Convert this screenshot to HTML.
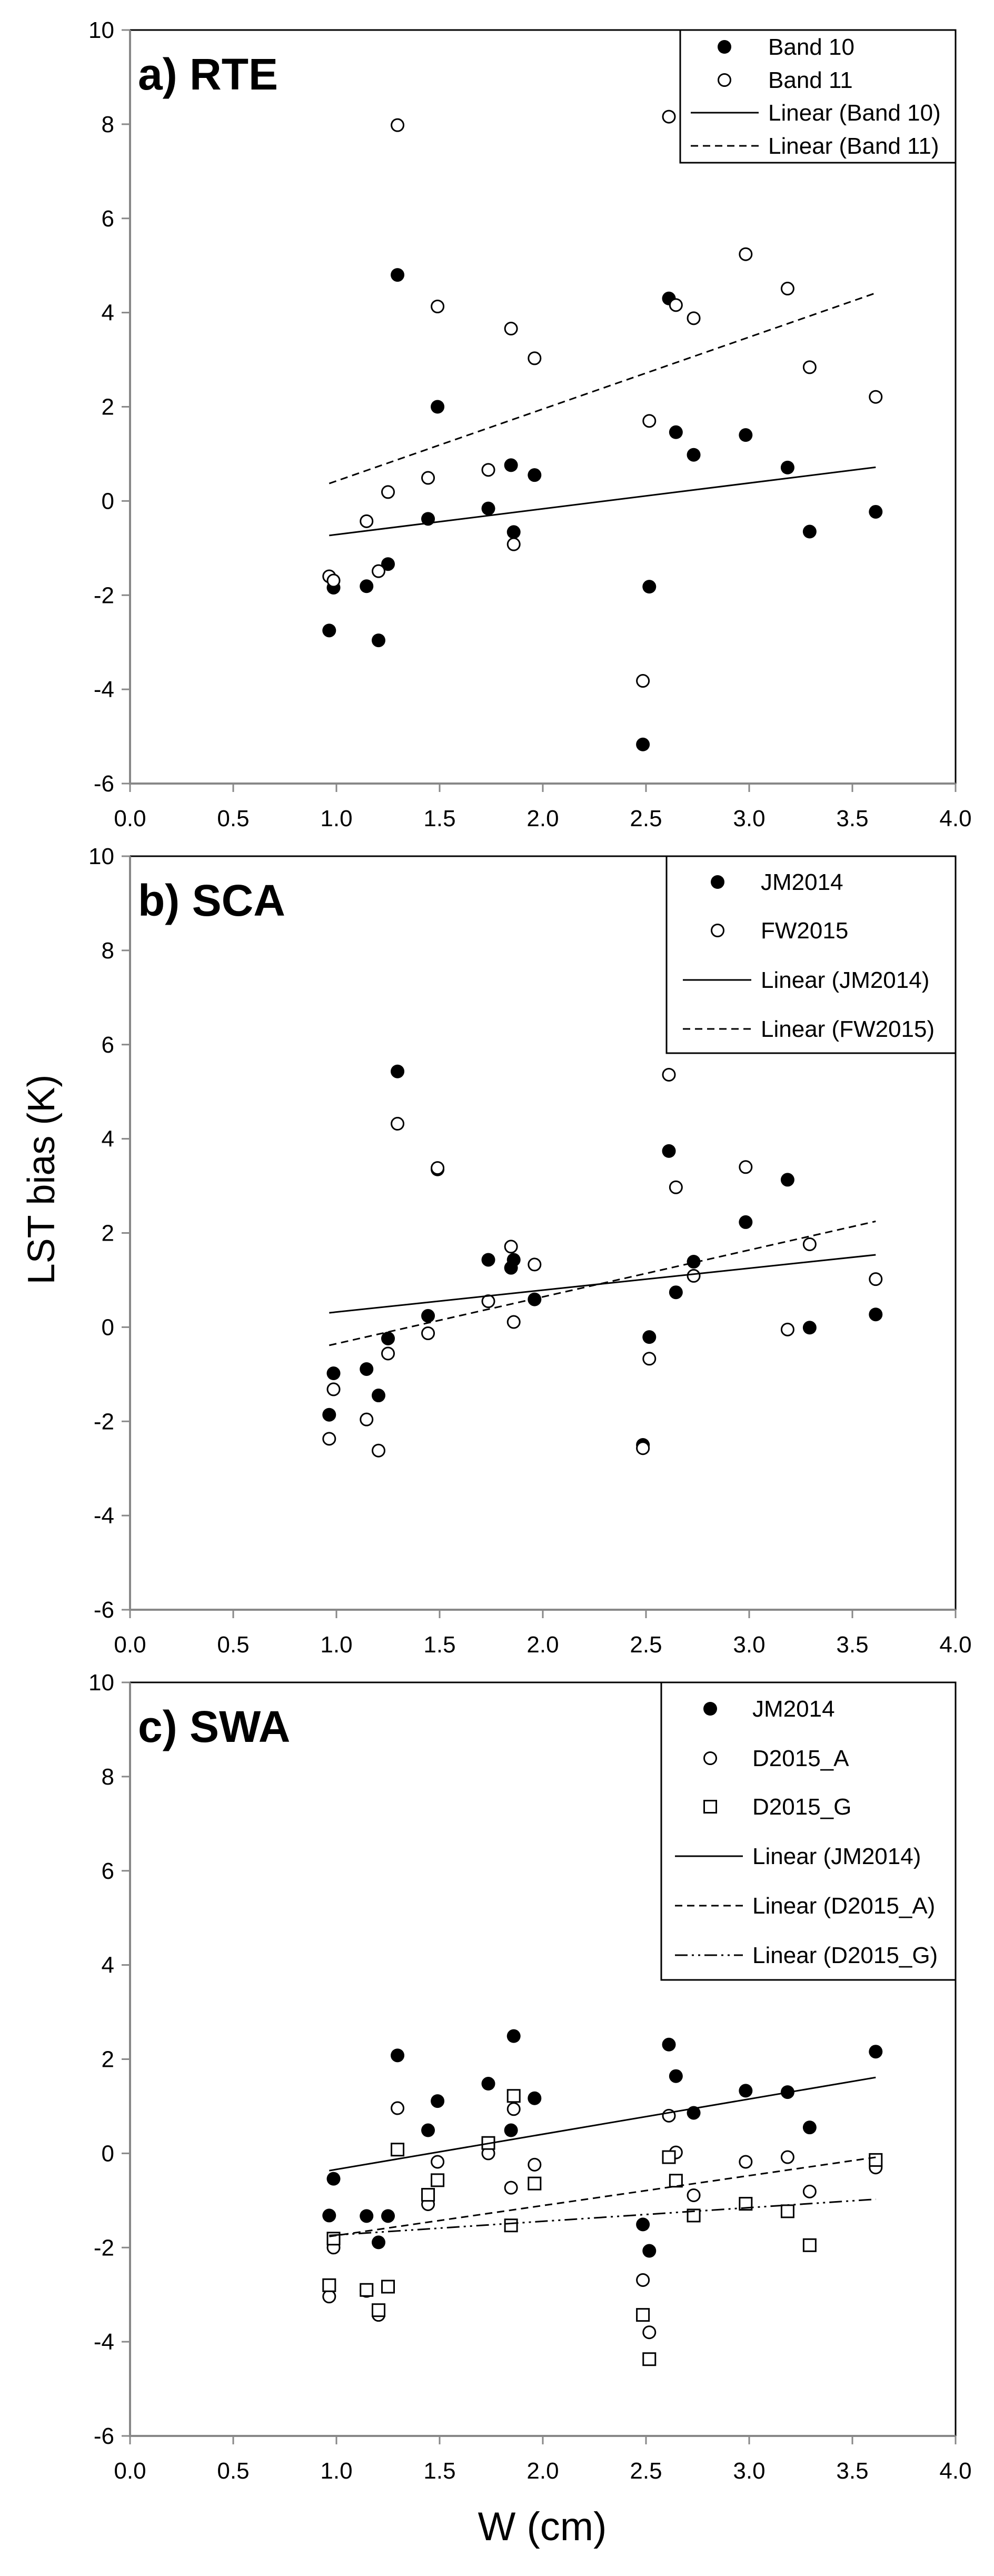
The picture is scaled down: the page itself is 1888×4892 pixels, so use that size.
<!DOCTYPE html>
<html><head><meta charset="utf-8">
<style>
html,body{margin:0;padding:0;background:#fff;}
svg{display:block;}
text{font-family:"Liberation Sans",sans-serif;fill:#000;}
</style></head>
<body>
<svg id="chart" width="1888" height="4892" viewBox="0 0 1888 4892" xmlns="http://www.w3.org/2000/svg"></svg>
<script>
const wValues = [0.965,0.986,1.146,1.204,1.25,1.296,1.444,1.49,1.736,1.846,1.859,1.96,2.485,2.516,2.611,2.645,2.731,2.983,3.186,3.293,3.613];
const rteBand10 = [-2.75,-1.84,-1.81,-2.96,-1.34,4.80,-0.38,2.00,-0.16,0.76,-0.66,0.55,-5.17,-1.82,4.30,1.46,0.98,1.40,0.71,-0.65,-0.23];
const rteBand11 = [-1.60,-1.69,-0.43,-1.49,0.19,7.98,0.49,4.13,0.66,3.66,-0.92,3.03,-3.82,1.70,8.16,4.16,3.88,5.24,4.51,2.84,2.21];
const scaJM2014 = [-1.86,-0.98,-0.89,-1.45,-0.24,5.43,0.24,3.35,1.43,1.26,1.43,0.59,-2.50,-0.21,3.74,0.74,1.39,2.23,3.13,-0.01,0.27];
const scaFW2015 = [-2.37,-1.32,-1.96,-2.62,-0.56,4.32,-0.13,3.38,0.55,1.71,0.11,1.33,-2.57,-0.67,5.36,2.97,1.09,3.40,-0.05,1.76,1.02];
const swaJM2014 = [-1.32,-0.54,-1.33,-1.89,-1.33,2.08,0.49,1.11,1.48,0.49,2.49,1.17,-1.51,-2.07,2.31,1.64,0.86,1.33,1.30,0.55,2.16];
const swaD2015A = [-3.04,-2.00,-2.92,-3.43,-2.83,0.96,-1.08,-0.18,0.00,-0.73,0.94,-0.24,-2.69,-3.80,0.80,0.02,-0.89,-0.18,-0.08,-0.81,-0.30];
const swaD2015G = [-2.80,-1.81,-2.90,-3.33,-2.83,0.08,-0.88,-0.57,0.22,-1.53,1.22,-0.64,-3.43,-4.37,-0.08,-0.58,-1.32,-1.07,-1.23,-1.95,-0.14];
const xTicks = ["0.0","0.5","1.0","1.5","2.0","2.5","3.0","3.5","4.0"];
const yTicks = ["-6","-4","-2","0","2","4","6","8","10"];

const NS = "http://www.w3.org/2000/svg";
const svg = document.getElementById('chart');
function mk(tag, attrs, parent){
  const e = document.createElementNS(NS, tag);
  for (const k in attrs) e.setAttribute(k, attrs[k]);
  (parent||svg).appendChild(e);
  return e;
}
const X0 = 247, X1 = 1815;
function xs(v){ return X0 + (v - 0) / 4 * (X1 - X0); }
function regress(xv, yv){
  const n = xv.length; let sx=0, sy=0, sxx=0, sxy=0;
  for (let i=0;i<n;i++){ sx+=xv[i]; sy+=yv[i]; sxx+=xv[i]*xv[i]; sxy+=xv[i]*yv[i]; }
  const b = (n*sxy - sx*sy) / (n*sxx - sx*sx);
  return { b: b, a: (sy - b*sx)/n };
}
const DASH = {solid:null, dash:"14 9", dashdot:"24 8 4 8 4 8"};

function drawMarker(g, kind, cx, cy){
  let m;
  if (kind === 'dot') m = mk('circle', {cx:cx, cy:cy, r:13, fill:'#000'}, g);
  else if (kind === 'circle') m = mk('circle', {cx:cx, cy:cy, r:11.5, fill:'#fff', stroke:'#000', 'stroke-width':3}, g);
  else m = mk('rect', {x:cx-11.5, y:cy-11.5, width:23, height:23, fill:'#fff', stroke:'#000', 'stroke-width':3}, g);
  return m;
}

function panel(cfg){
  const Y10 = cfg.top, Ym6 = cfg.top + 1431;
  function ys(v){ return Ym6 - (v + 6) / 16 * (Ym6 - Y10); }
  const g = mk('g', {});
  
  
  // frame
  const fr = mk('rect', {x:X0, y:Y10, width:X1-X0, height:Ym6-Y10, fill:'none', stroke:'#000', 'stroke-width':3}, g);
  
  
  const ya = mk('line', {x1:X0, y1:Y10, x2:X0, y2:Ym6, stroke:'#888', 'stroke-width':4}, g);
  
  
  const xa = mk('line', {x1:X0-2, y1:Ym6, x2:X1, y2:Ym6, stroke:'#888', 'stroke-width':4}, g);
  
  
  yTicks.forEach(t => {
    const v = parseFloat(t), y = ys(v);
    mk('line', {x1:X0-16, y1:y, x2:X0, y2:y, stroke:'#888', 'stroke-width':3}, g);
    const tx = mk('text', {x:X0-30, y:y+15, 'font-size':44, 'text-anchor':'end'}, g);
    tx.textContent = t.replace('-', '-');
    
    
  });
  xTicks.forEach(t => {
    const v = parseFloat(t), x = xs(v);
    mk('line', {x1:x, y1:Ym6, x2:x, y2:Ym6+16, stroke:'#888', 'stroke-width':3}, g);
    const tx = mk('text', {x:x, y:Ym6+81, 'font-size':44, 'text-anchor':'middle'}, g);
    tx.textContent = t;
    
    
  });
  const ttl = mk('text', {x:262, y:Y10+113, 'font-size':84, 'font-weight':'bold'}, g);
  ttl.textContent = cfg.title;
  
  
  // series markers
  cfg.series.forEach(s => {
    const sg = mk('g', {}, g);
    
    
    s.data.forEach((v, i) => {
      const m = drawMarker(sg, s.marker, xs(wValues[i]), ys(v));
      
      
    });
  });
  // trendlines
  cfg.series.forEach(s => {
    const r = regress(wValues, s.data);
    const xmin = Math.min.apply(null, wValues), xmax = Math.max.apply(null, wValues);
    const ln = mk('line', {x1:xs(xmin), y1:ys(r.a + r.b*xmin), x2:xs(xmax), y2:ys(r.a + r.b*xmax), stroke:'#000', 'stroke-width':3}, g);
    if (DASH[s.line]) ln.setAttribute('stroke-dasharray', DASH[s.line]);
    
    
  });
  // legend
  const L = cfg.legend;
  const lg = mk('g', {}, g);
  
  
  mk('rect', {x:L.x, y:Y10, width:X1-L.x, height:L.bottom-Y10, fill:'#fff', stroke:'#000', 'stroke-width':3}, lg);
  const n = cfg.series.length;
  const labels = [];
  cfg.series.forEach(s => labels.push({kind:'m', s:s, text:s.label}));
  cfg.series.forEach(s => labels.push({kind:'l', s:s, text:'Linear (' + s.label + ')'}));
  labels.forEach((it, i) => {
    const y = L.rows[i];
    if (it.kind === 'm') drawMarker(lg, it.s.marker, L.mx, y);
    else {
      const ln = mk('line', {x1:L.l1, y1:y, x2:L.l2, y2:y, stroke:'#000', 'stroke-width':3}, lg);
      if (DASH[it.s.line]) ln.setAttribute('stroke-dasharray', DASH[it.s.line]);
    }
    const tx = mk('text', {x:L.tx, y:y+15, 'font-size':44}, lg);
    tx.textContent = it.text;
    
    
  });
}

panel({name:'panel-a-rte', title:'a) RTE', top:57,
  series:[{label:'Band 10', data:rteBand10, marker:'dot', line:'solid'},
          {label:'Band 11', data:rteBand11, marker:'circle', line:'dash'}],
  legend:{x:1292, bottom:309, rows:[89,152,214,277], mx:1376, tx:1459, l1:1312, l2:1441}});
panel({name:'panel-b-sca', title:'b) SCA', top:1626,
  series:[{label:'JM2014', data:scaJM2014, marker:'dot', line:'solid'},
          {label:'FW2015', data:scaFW2015, marker:'circle', line:'dash'}],
  legend:{x:1266, bottom:2000, rows:[1675,1767,1861,1954], mx:1363, tx:1445, l1:1297, l2:1427}});
panel({name:'panel-c-swa', title:'c) SWA', top:3195,
  series:[{label:'JM2014', data:swaJM2014, marker:'dot', line:'solid'},
          {label:'D2015_A', data:swaD2015A, marker:'circle', line:'dash'},
          {label:'D2015_G', data:swaD2015G, marker:'square', line:'dashdot'}],
  legend:{x:1256, bottom:3760, rows:[3245,3339,3431,3525,3619,3713], mx:1349, tx:1429, l1:1282, l2:1411}});

const yt = mk('text', {x:0, y:0, 'font-size':72, 'text-anchor':'middle', transform:'translate(103,2240) rotate(-90)'});
yt.textContent = 'LST bias (K)';


const xt = mk('text', {x:1030, y:4824, 'font-size':76, 'text-anchor':'middle'});
xt.textContent = 'W (cm)';


</script>
</body></html>
